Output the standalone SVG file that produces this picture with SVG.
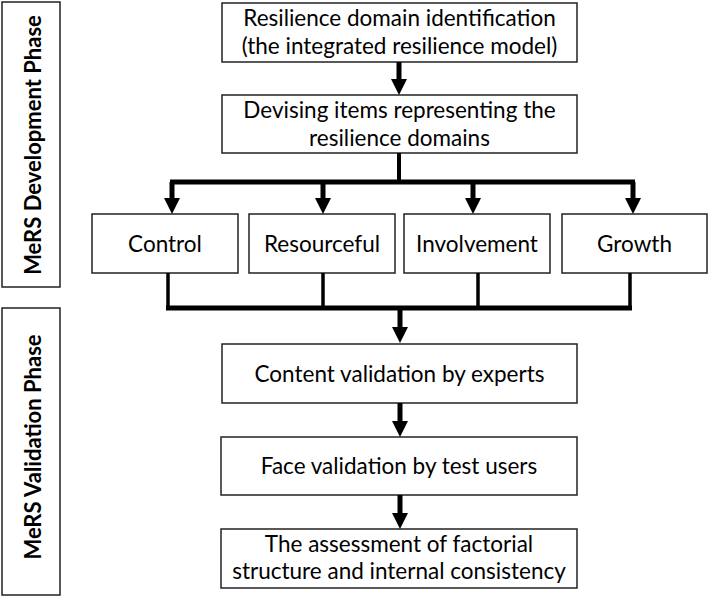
<svg xmlns="http://www.w3.org/2000/svg" width="709" height="597" viewBox="0 0 709 597">
<style>
.box{fill:#fff;stroke:#222;stroke-width:1.5}
.t{font-family:Lato,"Liberation Sans",sans-serif;font-size:22.5px;fill:#000;text-anchor:middle}
.p{font-family:Lato,"Liberation Sans",sans-serif;font-size:22px;font-weight:bold;fill:#000;text-anchor:middle}
.c{stroke:#000;fill:none}
.h{fill:#000}
</style>
<rect width="709" height="597" fill="#fff"/>
<g id="phase-dev">
<rect class="box" x="2" y="2" width="58" height="285"/>
<text class="p" transform="translate(41,145) rotate(-90)">MeRS Development Phase</text>
</g>
<g id="phase-val">
<rect class="box" x="2" y="308" width="58" height="287"/>
<text class="p" transform="translate(41,447) rotate(-90)">MeRS Validation Phase</text>
</g>
<g id="n1">
<rect class="box" x="222" y="3" width="355" height="59"/>
<text class="t" x="399.5" y="26">Resilience domain identification</text>
<text class="t" x="399.5" y="54">(the integrated resilience model)</text>
</g>
<g id="n2">
<rect class="box" x="222" y="95" width="355" height="58"/>
<text class="t" x="399.5" y="118">Devising items representing the</text>
<text class="t" x="399.5" y="146">resilience domains</text>
</g>
<g id="n-control">
<rect class="box" x="92" y="214" width="146" height="59"/>
<text class="t" x="165" y="252">Control</text>
</g>
<g id="n-resourceful">
<rect class="box" x="249" y="214" width="146" height="59"/>
<text class="t" x="322" y="252">Resourceful</text>
</g>
<g id="n-involvement">
<rect class="box" x="404" y="214" width="146" height="59"/>
<text class="t" x="477" y="252">Involvement</text>
</g>
<g id="n-growth">
<rect class="box" x="562" y="214" width="145" height="59"/>
<text class="t" x="634.5" y="252">Growth</text>
</g>
<g id="n-content">
<rect class="box" x="222" y="344" width="355" height="59"/>
<text class="t" x="399.5" y="382">Content validation by experts</text>
</g>
<g id="n-face">
<rect class="box" x="221" y="437" width="356" height="58"/>
<text class="t" x="399" y="474">Face validation by test users</text>
</g>
<g id="n-assess">
<rect class="box" x="221" y="529" width="356" height="59"/>
<text class="t" x="399" y="552">The assessment of factorial</text>
<text class="t" x="399" y="579">structure and internal consistency</text>
</g>
<g id="connectors">
<line class="c" x1="399" y1="62" x2="399" y2="80" stroke-width="5"/>
<polygon class="h" points="391,79 407,79 399,95"/>
<line class="c" x1="399" y1="153" x2="399" y2="182" stroke-width="4"/>
<line class="c" x1="170" y1="182" x2="635" y2="182" stroke-width="5"/>
<line class="c" x1="172" y1="182" x2="172" y2="199" stroke-width="5"/>
<polygon class="h" points="164,198 180,198 172,214"/>
<line class="c" x1="323" y1="182" x2="323" y2="199" stroke-width="5"/>
<polygon class="h" points="315,198 331,198 323,214"/>
<line class="c" x1="473" y1="182" x2="473" y2="199" stroke-width="5"/>
<polygon class="h" points="465,198 481,198 473,214"/>
<line class="c" x1="633" y1="182" x2="633" y2="199" stroke-width="5"/>
<polygon class="h" points="625,198 641,198 633,214"/>
<line class="c" x1="168" y1="273" x2="168" y2="308" stroke-width="3.5"/>
<line class="c" x1="323" y1="273" x2="323" y2="308" stroke-width="3.5"/>
<line class="c" x1="478" y1="273" x2="478" y2="308" stroke-width="3.5"/>
<line class="c" x1="630" y1="273" x2="630" y2="308" stroke-width="3.5"/>
<line class="c" x1="166" y1="308" x2="632" y2="308" stroke-width="5"/>
<line class="c" x1="400" y1="308" x2="400" y2="328" stroke-width="5"/>
<polygon class="h" points="392,327 408,327 400,343"/>
<line class="c" x1="400" y1="403" x2="400" y2="422" stroke-width="5"/>
<polygon class="h" points="392,421 408,421 400,437"/>
<line class="c" x1="400" y1="495" x2="400" y2="514" stroke-width="5"/>
<polygon class="h" points="392,513 408,513 400,529"/>
</g>
</svg>
